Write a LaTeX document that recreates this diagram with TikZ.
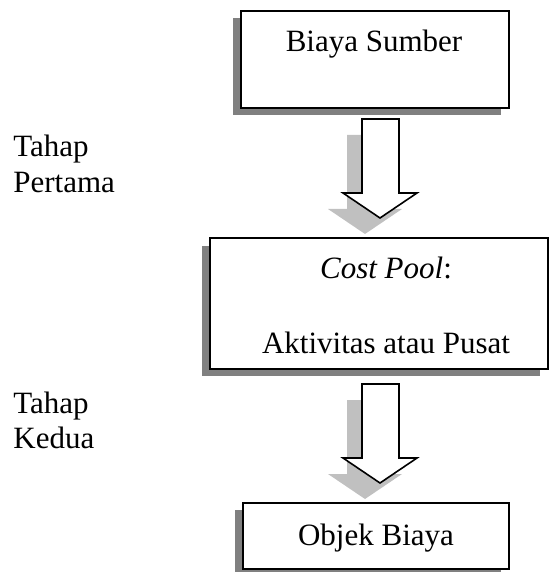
\documentclass[tikz,border=0pt]{standalone}
\usepackage{fontspec}
\setmainfont{Liberation Serif}
\usepackage{tikz}
\usepackage{xcolor}
\definecolor{boxshade}{RGB}{128,128,128}
\definecolor{arrowshade}{RGB}{192,192,192}

\begin{document}
\begin{tikzpicture}[x=0.5pt,y=-0.5pt,
  lbl/.style={inner sep=0pt,font=\fontsize{15.5}{17.5}\selectfont},
  boxline/.style={draw=black,line width=1pt},
  arrowline/.style={draw=black,line width=0.8pt,line join=miter}]
  \useasboundingbox (0,0) rectangle (550,572);
  % first box
  \fill[boxshade] (233,18) rectangle (501,115);
  \filldraw[fill=white,boxline] (241,11) rectangle (509,108);
  \node[lbl,anchor=base] (sumber) at (374,52) {Biaya Sumber};
  % first arrow
  \fill[arrowshade] (347,135) -- (384,135) -- (384,209) -- (402,209)
    -- (365,234) -- (328,209) -- (347,209) -- cycle;
  \filldraw[fill=white,arrowline] (362,119) -- (399,119) -- (399,193) -- (417,193)
    -- (380,218) -- (343,193) -- (362,193) -- cycle;
  \node[lbl,anchor=base west] (tahapa) at (13,157) {Tahap};
  \node[lbl,anchor=base west] (pertama) at (13,192) {Pertama};
  % second box
  \fill[boxshade] (202,246) rectangle (540,376);
  \filldraw[fill=white,boxline] (210,238) rectangle (548,369);
  \node[lbl,anchor=base] (pool) at (386,278) {\textit{Cost Pool}:};
  \node[lbl,anchor=base] (pusat) at (386,353) {Aktivitas atau Pusat};
  % second arrow
  \fill[arrowshade] (347,400) -- (384,400) -- (384,474) -- (402,474)
    -- (365,499) -- (328,474) -- (347,474) -- cycle;
  \filldraw[fill=white,arrowline] (362,384) -- (399,384) -- (399,458) -- (417,458)
    -- (380,483) -- (343,458) -- (362,458) -- cycle;
  \node[lbl,anchor=base west] (tahapb) at (13,413) {Tahap};
  \node[lbl,anchor=base west] (kedua) at (13,448) {Kedua};
  % third box
  \fill[boxshade] (235,510) rectangle (501,576);
  \filldraw[fill=white,boxline] (243,503) rectangle (509,569);
  \node[lbl,anchor=base] (objek) at (376,545) {Objek Biaya};
\end{tikzpicture}
\end{document}
